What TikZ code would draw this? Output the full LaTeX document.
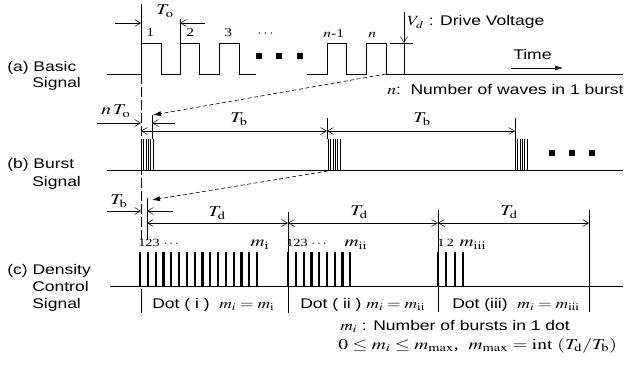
\documentclass[tikz,border=0pt]{standalone}
\usepackage{mathptmx}
\usepackage[no-math]{fontspec}
\setmainfont{Liberation Serif}
\setsansfont{Liberation Sans}
\usetikzlibrary{arrows.meta}
\tikzset{
  wave/.style   ={line width=0.7pt},
  thinln/.style ={line width=0.5pt},
  dimarr/.style ={-{Straight Barb[length=6pt,width=7pt]}, line width=0.5pt},
  dimboth/.style={{Straight Barb[length=6pt,width=7pt]}-{Straight Barb[length=6pt,width=7pt]},
                  line width=0.5pt},
  % dashed zoom-in arrow between the rows
  zoomarr/.style={-{Latex[length=8pt,width=5pt]}, dash pattern=on 4pt off 2.5pt, line width=0.6pt},
  guide/.style  ={dash pattern=on 10pt off 3pt, line width=0.5pt},
  bar/.style    ={line width=2.2pt},
  burst/.style  ={line width=0.35pt},
  blk/.style    ={fill=black, minimum size=6pt, inner sep=0pt},
  txt/.style    ={font=\sffamily\fontsize{14}{16}\selectfont, xscale=1.25, inner sep=0pt,
                  anchor=base west},
  mth/.style    ={font=\fontsize{15}{17}\selectfont, xscale=1.3, inner sep=0pt},
  num/.style    ={font=\rmfamily\fontsize{12}{14}\selectfont, xscale=1.3, inner sep=0pt,
                  anchor=base west},
  idx/.style    ={font=\rmfamily\fontsize{11}{13}\selectfont, xscale=1.3, inner sep=0pt,
                  anchor=base west},
}

\begin{document}
\begin{tikzpicture}[x=1pt,y=-1pt]
  \useasboundingbox (0,0) rectangle (629,366);
  % row labels
  \node[txt] (la1) at (7,72)   {(a) Basic};
  \node[txt] (la2) at (32,88)  {Signal};
  \node[txt] (lb1) at (7,169)  {(b) Burst};
  \node[txt] (lb2) at (32,187) {Signal};
  \node[txt] (lc1) at (7,274)  {(c) Density};
  \node[txt] (lc2) at (32,291) {Control};
  \node[txt] (lc3) at (32,308) {Signal};

  % (a) basic signal
  \draw[wave] (107,74) -- (141,74) -- (141,43) -- (161,43) -- (161,74) -- (180,74) -- (180,43)
    -- (199,43) -- (199,74) -- (219,74) -- (219,43) -- (239,43) -- (239,74) -- (256,74);
  \draw[wave] (307,74) -- (327,74) -- (327,43) -- (346,43) -- (346,74) -- (366,74) -- (366,43)
    -- (386,43) -- (386,74) coordinate (nend) -- (623,74);
  \foreach \x [count=\i] in {259,279,300} \node[blk] (sqa\i) at (\x,56) {};
  \node[num] (w1)  at (146,37) {1};
  \node[num] (w2)  at (186,37) {2};
  \node[num] (w3)  at (224,37) {3};
  \node[num] (wd)  at (257,37) {$\cdots$};
  \node[num] (wn1) at (323,38) {$n$-1};
  \node[num] (wn)  at (368,38) {$n$};
  \draw[thinln] (141,4) -- (141,43);
  \draw[thinln] (180,19) -- (180,43);
  \draw[dimarr] (115,23) -- (141,23);
  \draw[dimarr] (205,23) -- (180,23);
  \node[mth, anchor=base] (To) at (165,15) {$T_\mathrm{o}$};
  \draw[dimarr] (404,12) -- (404,43);
  \draw[thinln] (404,43) -- (404,74);
  \draw[thinln] (390,43) -- (413,43);
  \node[txt] (vd) at (407,26) {$V_d$ : Drive Voltage};
  \node[txt] (time) at (513,60) {Time};
  \draw[-{Latex[length=8pt,width=5pt]}, line width=0.6pt] (511,68) -- (563,68);
  \node[txt] (nwav) at (387,95) {$n$:\ \ Number of waves in 1 burst};
  \draw[guide] (141,74) -- (141,240);

  % (b) burst signal
  \coordinate (bz1) at (153,115);
  \draw[zoomarr] (nend) -- (bz1);
  \draw[thinln] (152,115) -- (152,139);
  \draw[dimarr] (97,123) -- (141,123);
  \draw[dimarr] (175,123) -- (152,123);
  \node[mth, anchor=base west] (nTo) at (101,115) {$n\,T_\mathrm{o}$};
  \draw[thinln] (327,118) -- (327,139);
  \draw[thinln] (515,118) -- (515,139);
  \draw[dimboth] (141,131) -- (327,131);
  \draw[dimboth] (327,131) -- (515,131);
  \node[mth, anchor=base] (Tb1) at (239,123) {$T_\mathrm{b}$};
  \node[mth, anchor=base] (Tb2) at (422,123) {$T_\mathrm{b}$};
  \draw[wave] (107,170) -- (623,170);
  \foreach \b in {141,328,515}
    \foreach \k in {0,...,5}
      \draw[burst] (\b+2.4*\k,139) -- ++(0,31);
  \foreach \x [count=\i] in {552,572,592} \node[blk] (sqb\i) at (\x,153) {};

  % (c) density control signal
  \coordinate (bst2) at (328,171);
  \coordinate (cz1) at (152,200);
  \draw[zoomarr] (bst2) -- (cz1);
  \node[mth, anchor=base west] (Tbc) at (110,205) {$T_\mathrm{b}$};
  \draw[dimarr] (107,211) -- (141,211);
  \draw[dimarr] (173,211) -- (147,211);
  \draw[thinln] (147,198) -- (147,240);
  \draw[thinln] (288,212) -- (288,313);
  \draw[thinln] (438,210) -- (438,312);
  \draw[thinln] (589,210) -- (589,312);
  \draw[thinln] (141,289) -- (141,313);
  \draw[dimboth] (147,223) -- (288,223);
  \draw[dimboth] (288,223) -- (438,223);
  \draw[dimboth] (438,223) -- (589,223);
  \node[mth, anchor=base] (Td1) at (217,217) {$T_\mathrm{d}$};
  \node[mth, anchor=base] (Td2) at (359,216) {$T_\mathrm{d}$};
  \node[mth, anchor=base] (Td3) at (509,216) {$T_\mathrm{d}$};
  \draw[wave] (110,286) -- (623,286);
  \foreach \k in {0,...,15} \draw[bar] (140+7.8*\k,252) -- ++(0,34);
  \foreach \k in {0,...,8}  \draw[bar] (288.3+7.75*\k,252) -- ++(0,34);
  \foreach \k in {0,...,3}  \draw[bar] (438+8.3*\k,252) -- ++(0,34);
  \node[idx] (c1n) at (138,247) {123\;$\cdots$};
  \node[idx] (c2n) at (286,247) {123\;$\cdots$};
  \node[idx] (c3n) at (437,247) {1\,2};
  \node[mth, anchor=base] (m1) at (260,247) {$m_\mathrm{i}$};
  \node[mth, anchor=base] (m2) at (356,247) {$m_\mathrm{ii}$};
  \node[mth, anchor=base] (m3) at (473,247) {$m_\mathrm{iii}$};
  \node[txt] (dot1) at (152,308) {Dot ( i )\ \ $m_i = m_\mathrm{i}$};
  \node[txt] (dot2) at (300,308) {Dot ( ii ) $m_i = m_\mathrm{ii}$};
  \node[txt] (dot3) at (452,308) {Dot (iii)\ \ $m_i = m_\mathrm{iii}$};
  \node[txt] (mdef) at (340,330) {$m_i$ : Number of bursts in 1 dot};
  \node[mth, anchor=base west] (mrng) at (338,349)
    {$0 \le m_i \le m_\mathrm{max}$,\ \ $m_\mathrm{max} = \mathrm{int}\ (T_\mathrm{d}/T_\mathrm{b})$};
\end{tikzpicture}
\end{document}
